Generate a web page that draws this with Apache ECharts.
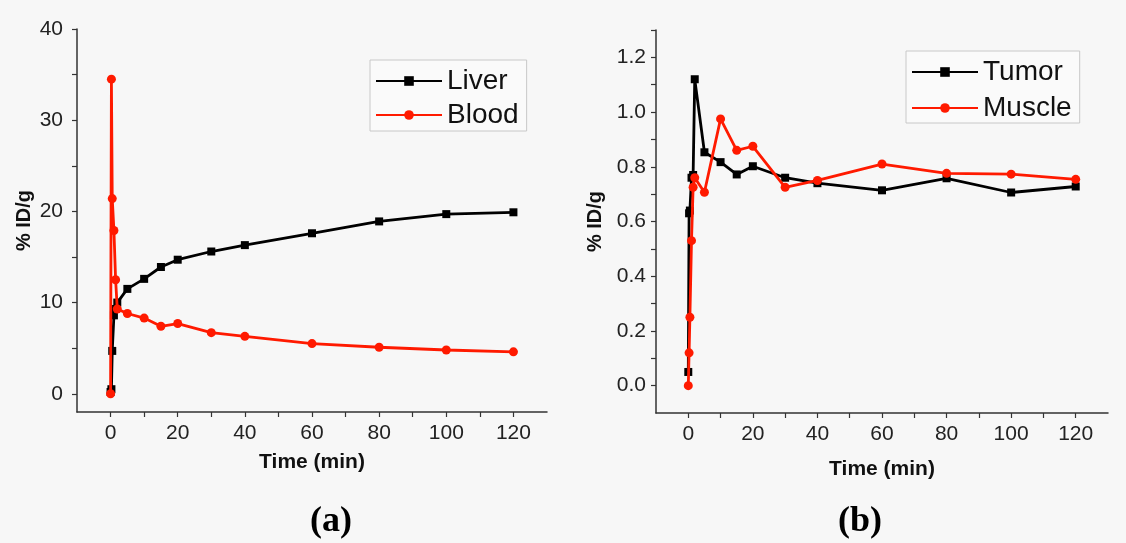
<!DOCTYPE html>
<html><head><meta charset="utf-8">
<script src="https://cdn.jsdelivr.net/npm/echarts@6/dist/echarts.min.js"></script>
<style>html,body{margin:0;padding:0;background:#f7f7f7;}#c{width:1126px;height:543px;}</style>
</head><body><div id="c"></div>
<script>
// Panel (a)
var timeA = [0, 0.25, 0.5, 1, 1.5, 2, 5, 10, 15, 20, 30, 40, 60, 80, 100, 120];
var liver = [0.2, 0.5, 4.7, 8.6, 9.3, 10.0, 11.5, 12.6, 13.9, 14.7, 15.6, 16.3, 17.6, 18.9, 19.7, 19.9];
var blood = [0, 34.5, 21.4, 17.9, 12.5, 9.3, 8.8, 8.3, 7.4, 7.7, 6.7, 6.3, 5.5, 5.1, 4.8, 4.6];
// Panel (b)
var timeB = [0, 0.25, 0.5, 1, 1.5, 2, 5, 10, 15, 20, 30, 40, 60, 80, 100, 120];
var tumor = [0.05, 0.63, 0.64, 0.76, 0.77, 1.12, 0.853, 0.817, 0.772, 0.802, 0.76, 0.74, 0.714, 0.758, 0.706, 0.728];
var muscle = [0, 0.12, 0.25, 0.53, 0.725, 0.76, 0.707, 0.975, 0.86, 0.875, 0.725, 0.75, 0.81, 0.776, 0.773, 0.754];
// tick labels
var xLabels = [0, 20, 40, 60, 80, 100, 120];
var xTicks = [0, 10, 20, 30, 40, 50, 60, 70, 80, 90, 100, 110, 120];
var yLabelsA = [0, 10, 20, 30, 40];
var yTicksA = [0, 5, 10, 15, 20, 25, 30, 35, 40];
var yLabelsB = [0, 0.2, 0.4, 0.6, 0.8, 1.0, 1.2];
var yTicksB = [0, 0.1, 0.2, 0.3, 0.4, 0.5, 0.6, 0.7, 0.8, 0.9, 1.0, 1.1, 1.2, 1.3];

function pairs(t, v){ return t.map(function(x,i){ return [x, v[i]]; }); }

var FONT = 'Liberation Sans';
var axisLine = {show:true, onZero:false, lineStyle:{color:'#333', width:1.5}};
var tick = function(vals){ return {show:true, inside:false, length:5, lineStyle:{color:'#333', width:1.2}, customValues: vals}; };
var lbl = function(vals, fmt, m){ return {customValues: vals, fontFamily:FONT, fontSize:21, color:'#222', margin:m, formatter: fmt}; };

function xAxis(gi, gap){
  return {type:'value', gridIndex:gi, min:-10, max:130, axisLine:axisLine, axisTick:tick(xTicks),
    axisLabel:lbl(xLabels, function(v){return String(v);}, 11), splitLine:{show:false},
    name:'Time (min)', nameLocation:'middle', nameGap:gap,
    nameTextStyle:{fontFamily:FONT, fontSize:21, fontWeight:'bold', color:'#111'}};
}
function yAxis(gi, mn, mx, ticks, labels, fmt, gap, m){
  return {type:'value', gridIndex:gi, min:mn, max:mx, axisLine:axisLine, axisTick:tick(ticks),
    axisLabel:lbl(labels, fmt, m), splitLine:{show:false},
    name:'% ID/g', nameLocation:'middle', nameGap:gap, nameRotate:90,
    nameTextStyle:{fontFamily:FONT, fontSize:20, fontWeight:'bold', color:'#111'}};
}
function line(name, xi, data, color, sym, size){
  return {name:name, type:'line', xAxisIndex:xi, yAxisIndex:xi, data:data, symbol:sym, symbolSize:size,
    showSymbol:true, showAllSymbol:true, lineStyle:{color:color, width:2.8}, itemStyle:{color:color},
    animation:false, z: color==='#000000'?2:3};
}

var chart = echarts.init(document.getElementById('c'), null, {renderer:'canvas'});
chart.setOption({
  backgroundColor:'#f7f7f7',
  animation:false,
  grid:[{left:77, top:29, width:470, height:383},{left:656, top:30, width:452, height:383}],
  xAxis:[xAxis(0, 40), xAxis(1, 46)],
  yAxis:[
    yAxis(0, -2, 40, yTicksA, yLabelsA, function(v){return String(v);}, 43, 14),
    yAxis(1, -0.1, 1.3, yTicksB, yLabelsB, function(v){return v.toFixed(1);}, 51, 10)
  ],
  legend:[
    {data:['Liver','Blood'], orient:'vertical', left:370, top:60, padding:[7,8,2,5], itemGap:6,
     itemWidth:66, itemHeight:12, borderColor:'#c8c8c8', borderWidth:1, backgroundColor:'#fafafa',
     textStyle:{fontFamily:FONT, fontSize:28, color:'#111'}},
    {data:['Tumor','Muscle'], orient:'vertical', left:906, top:51, padding:[7,8,1,5], itemGap:8,
     itemWidth:66, itemHeight:12, borderColor:'#c8c8c8', borderWidth:1, backgroundColor:'#fafafa',
     textStyle:{fontFamily:FONT, fontSize:28, color:'#111'}}
  ],
  series:[
    line('Liver', 0, pairs(timeA, liver), '#000000', 'rect', 8),
    line('Blood', 0, pairs(timeA, blood), '#ff1a00', 'circle', 9),
    line('Tumor', 1, pairs(timeB, tumor), '#000000', 'rect', 8),
    line('Muscle', 1, pairs(timeB, muscle), '#ff1a00', 'circle', 9)
  ],
  graphic:[
    {type:'text', x:331, y:522, style:{text:'(a)', font:'bold 36px "Liberation Serif"', fill:'#000', align:'center', verticalAlign:'middle'}},
    {type:'text', x:860, y:522, style:{text:'(b)', font:'bold 36px "Liberation Serif"', fill:'#000', align:'center', verticalAlign:'middle'}}
  ]
});
</script></body></html>
